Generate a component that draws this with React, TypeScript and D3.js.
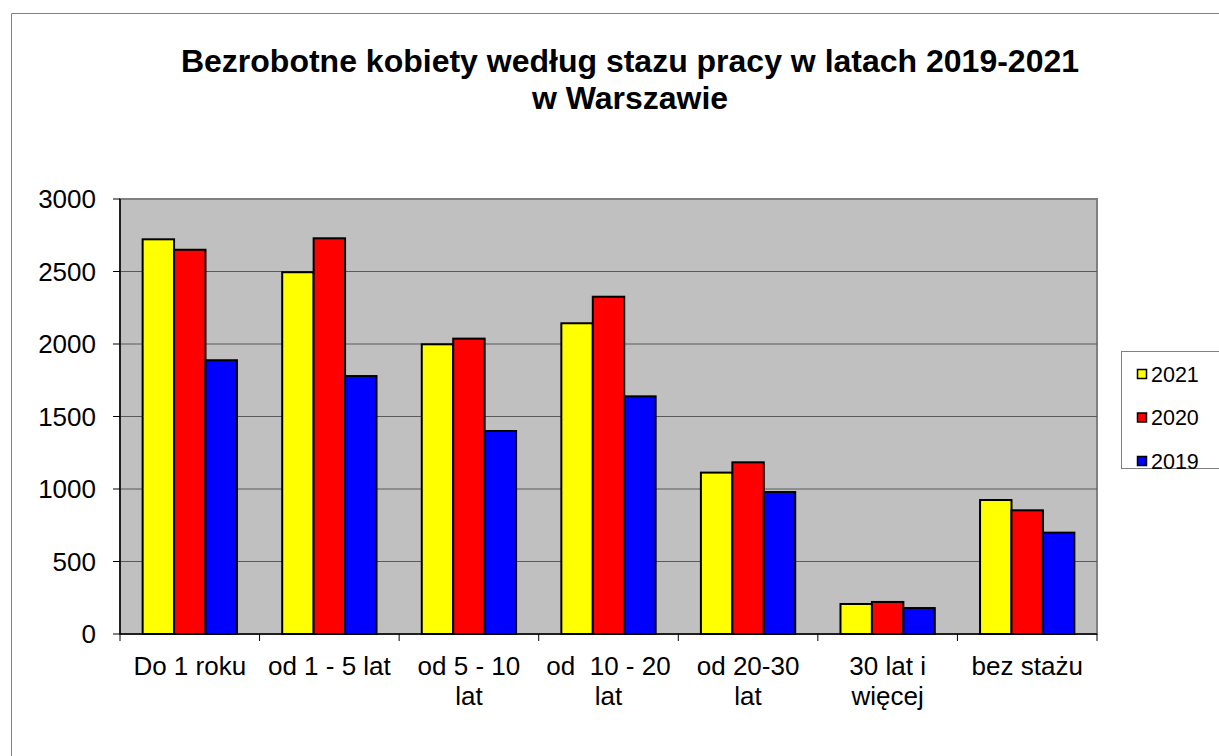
import React from "react";
import * as d3 from "d3";

const categories = ["Do 1 roku", "od 1 - 5 lat", "od 5 - 10 lat", "od  10 - 20 lat", "od 20-30 lat", "30 lat i więcej", "bez stażu"];
const categoryLines = [["Do 1 roku"], ["od 1 - 5 lat"], ["od 5 - 10", "lat"], ["od  10 - 20", "lat"], ["od 20-30", "lat"], ["30 lat i", "więcej"], ["bez stażu"]];
const seriesNames = ["2021", "2020", "2019"];
const values2021 = [2722, 2495, 1998, 2143, 1113, 207, 924];
const values2020 = [2650, 2729, 2037, 2326, 1184, 221, 853];
const values2019 = [1888, 1779, 1400, 1639, 979, 179, 699];
const seriesColors = ["#FFFF00", "#FF0000", "#0000FF"];
const yTicks = [0, 500, 1000, 1500, 2000, 2500, 3000];
const titleLines = ["Bezrobotne kobiety według stazu pracy w latach 2019-2021", "w Warszawie"];

export default function App() {
  const W = 1219, H = 756;
  const left = 120, right = 1097, top = 199, bottom = 634;
  const font = "'Liberation Sans', Arial, sans-serif";
  const seriesValues = [values2021, values2020, values2019];

  const x = d3.scaleBand<string>().domain(categories).range([left, right]).paddingInner(0).paddingOuter(0);
  const x1 = d3.scaleBand<string>().domain(seriesNames).range([0, x.bandwidth()]).paddingInner(0).paddingOuter(0.72);
  const y = d3.scaleLinear().domain([0, 3000]).range([bottom, top]);

  const boundaries = d3.range(categories.length + 1).map((i) => left + i * x.step());

  return (
    <svg width={W} height={H} style={{ position: "absolute", left: 0, top: 0 }} fontFamily={font}>
      <rect x={0} y={0} width={W} height={H} fill="#fff" />
      {/* outer chart border */}
      <line x1={11.5} y1={13.5} x2={W + 5} y2={13.5} stroke="#808080" strokeWidth={1} />
      <line x1={11.5} y1={13.5} x2={11.5} y2={H + 5} stroke="#808080" strokeWidth={1} />

      {/* title */}
      <text x={630} y={72} textAnchor="middle" fontWeight="bold" fontSize={32}>{titleLines[0]}</text>
      <text x={630} y={109} textAnchor="middle" fontWeight="bold" fontSize={32}>{titleLines[1]}</text>

      {/* plot area */}
      <rect x={left} y={top} width={right - left} height={bottom - top} fill="#C0C0C0" stroke="#808080" strokeWidth={2} />
      {yTicks.filter((t) => t > 0 && t < 3000).map((t) => (
        <line key={t} x1={left} x2={right} y1={y(t)} y2={y(t)} stroke="#5a5a5a" strokeWidth={1.2} />
      ))}

      {/* bars */}
      {categories.map((c, ci) => (
        <g key={c} transform={`translate(${x(c)},0)`}>
          {seriesNames.map((s, si) => (
            <rect
              key={s}
              x={x1(s)}
              y={y(seriesValues[si][ci])}
              width={x1.bandwidth()}
              height={bottom - y(seriesValues[si][ci])}
              fill={seriesColors[si]}
              stroke="#000"
              strokeWidth={2}
            />
          ))}
        </g>
      ))}

      {/* axes */}
      <line x1={left} x2={left} y1={top} y2={bottom} stroke="#000" strokeWidth={1.5} />
      <line x1={left} x2={right} y1={bottom} y2={bottom} stroke="#000" strokeWidth={1.5} />
      {yTicks.map((t) => (
        <g key={t}>
          <line x1={left - 7} x2={left} y1={y(t)} y2={y(t)} stroke="#000" strokeWidth={1} />
          <text x={96} y={y(t)} dy="0.36em" textAnchor="end" fontSize={26}>{t}</text>
        </g>
      ))}
      {boundaries.map((b, i) => (
        <line key={i} x1={b} x2={b} y1={bottom} y2={bottom + 7} stroke="#000" strokeWidth={1} />
      ))}
      {categories.map((c, ci) => (
        <text key={c} x={(x(c) as number) + x.bandwidth() / 2} y={675} textAnchor="middle" fontSize={26} style={{ whiteSpace: "pre" }}>
          {categoryLines[ci].map((ln, li) => (
            <tspan key={li} x={(x(c) as number) + x.bandwidth() / 2} y={675 + li * 30}>{ln}</tspan>
          ))}
        </text>
      ))}

      {/* legend */}
      <rect x={1121.5} y={351.5} width={120} height={117} fill="#fff" stroke="#808080" strokeWidth={1} />
      {seriesNames.map((s, si) => (
        <g key={s} transform={`translate(0,${374 + si * 43.5})`}>
          <rect x={1137.5} y={-4.5} width={9} height={9} fill={seriesColors[si]} stroke="#000" strokeWidth={1.5} />
          <text x={1151} y={0} dy="0.36em" fontSize={21.5}>{s}</text>
        </g>
      ))}
    </svg>
  );
}
